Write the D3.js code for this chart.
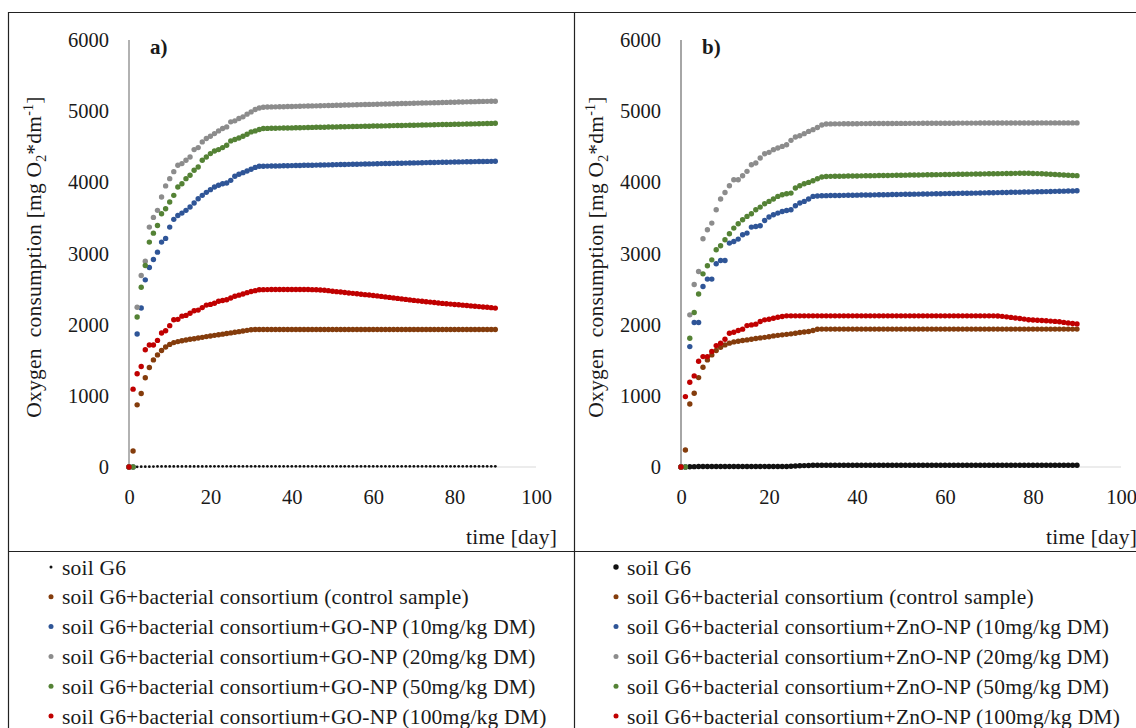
<!DOCTYPE html>
<html>
<head>
<meta charset="utf-8">
<script src="https://cdn.jsdelivr.net/npm/d3@7"></script>
<style>
  body { margin: 0; background: #fff; }
  svg text { font-family: "Palatino Linotype", "Book Antiqua", Palatino, "Liberation Serif", serif; fill: #1a1a1a; }
</style>
</head>
<body>
<svg id="chart" width="1136" height="728"></svg>
<script>
// days 0..90, one reading per day
var days = d3.range(0, 91);
var yTicks = [0, 1000, 2000, 3000, 4000, 5000, 6000];
var xTicks = [0, 20, 40, 60, 80, 100];

var seriesNames = ["soil G6", "soil G6+bacterial consortium (control sample)",
  "10mg/kg DM", "20mg/kg DM", "50mg/kg DM", "100mg/kg DM"];

// panel a) GO-NP
var a_soil = [
  0,0,3,4,5,5,6,8,8,8,
  8,8,8,8,8,8,8,8,8,8,
  9,9,9,9,9,9,9,9,9,9,
  9,9,9,9,9,9,9,9,9,9,
  9,9,9,9,9,9,9,9,9,9,
  9,9,9,9,9,9,9,9,9,9,
  9,9,9,9,9,9,9,9,9,9,
  9,9,9,9,9,9,9,9,9,9,
  9,9,9,9,9,9,9,9,9,9,
  9];
var a_control = [
  0,225,873,1033,1254,1399,1505,1575,1638,1686,
  1723,1748,1762,1775,1785,1795,1803,1812,1822,1832,
  1841,1850,1859,1867,1876,1884,1893,1902,1911,1920,
  1928,1933,1933,1933,1933,1933,1933,1933,1933,1933,
  1933,1933,1933,1933,1933,1933,1933,1933,1933,1933,
  1933,1933,1933,1933,1933,1933,1933,1933,1933,1933,
  1933,1933,1933,1933,1933,1933,1933,1933,1933,1933,
  1933,1933,1933,1933,1933,1933,1933,1933,1933,1933,
  1933,1933,1933,1933,1933,1933,1933,1933,1933,1933,
  1933];
var a_go10 = [
  0,0,1869,2235,2630,2803,2915,3019,3160,3212,
  3371,3480,3535,3568,3606,3653,3709,3770,3817,3859,
  3897,3934,3958,3981,3990,4028,4085,4113,4136,4160,
  4183,4210,4225,4227,4228,4229,4230,4231,4232,4233,
  4235,4236,4237,4239,4240,4241,4242,4244,4245,4246,
  4248,4249,4250,4251,4253,4254,4255,4256,4258,4259,
  4260,4262,4263,4264,4265,4267,4268,4269,4270,4272,
  4273,4274,4276,4277,4278,4279,4281,4282,4283,4284,
  4286,4287,4288,4289,4290,4291,4292,4293,4294,4295,
  4296];
var a_go20 = [
  0,0,2244,2690,2892,3371,3507,3606,3793,3950,
  4052,4150,4239,4263,4310,4357,4460,4488,4568,4615,
  4648,4685,4723,4756,4779,4850,4864,4897,4920,4958,
  4990,5024,5045,5055,5058,5060,5061,5062,5063,5065,
  5066,5068,5069,5071,5072,5074,5075,5077,5078,5080,
  5081,5083,5084,5086,5087,5089,5090,5092,5093,5095,
  5096,5098,5099,5101,5102,5104,5105,5107,5108,5110,
  5111,5113,5114,5116,5117,5119,5120,5122,5123,5125,
  5126,5128,5129,5131,5132,5134,5135,5137,5138,5139,
  5140];
var a_go50 = [
  0,0,2108,2526,2831,3160,3286,3394,3559,3629,
  3723,3817,3934,3981,4052,4099,4169,4216,4310,4357,
  4404,4441,4460,4488,4521,4582,4601,4624,4648,4676,
  4709,4723,4742,4756,4758,4759,4760,4762,4763,4764,
  4765,4767,4768,4769,4770,4772,4773,4774,4775,4777,
  4778,4779,4780,4782,4783,4784,4786,4787,4788,4789,
  4791,4792,4793,4794,4796,4797,4798,4799,4801,4802,
  4803,4804,4806,4807,4808,4809,4811,4812,4813,4814,
  4816,4817,4818,4819,4821,4822,4823,4825,4826,4828,
  4830];
var a_go100 = [
  0,1094,1310,1413,1648,1714,1714,1779,1883,1915,
  1986,2070,2075,2120,2130,2160,2195,2205,2240,2275,
  2285,2300,2330,2340,2350,2375,2400,2415,2430,2450,
  2465,2478,2490,2492,2493,2494,2495,2495,2495,2495,
  2495,2495,2495,2495,2494,2492,2490,2487,2483,2478,
  2470,2464,2458,2452,2446,2440,2434,2428,2422,2416,
  2410,2404,2397,2390,2383,2376,2369,2362,2355,2348,
  2341,2335,2329,2323,2317,2311,2305,2299,2294,2289,
  2284,2279,2274,2269,2264,2259,2254,2249,2244,2239,
  2233];

// panel b) ZnO-NP
var b_soil = [
  0,0,4,5,6,6,7,7,8,8,
  8,8,8,8,8,8,8,8,8,8,
  8,8,8,8,8,10,14,18,20,22,
  24,25,25,25,25,25,25,25,25,25,
  25,25,25,25,25,25,25,25,25,25,
  25,25,25,25,25,25,25,25,25,25,
  25,25,25,25,25,25,25,25,25,25,
  25,25,25,25,25,25,25,25,25,25,
  25,25,25,25,25,25,25,25,25,25,
  25];
var b_control = [
  0,239,886,1036,1256,1402,1505,1575,1636,1683,
  1716,1740,1758,1768,1777,1786,1796,1805,1814,1822,
  1830,1842,1850,1857,1864,1871,1880,1889,1896,1903,
  1918,1935,1938,1938,1938,1938,1938,1938,1938,1938,
  1938,1938,1938,1938,1938,1938,1938,1938,1938,1938,
  1938,1938,1938,1938,1938,1938,1938,1938,1938,1938,
  1938,1938,1938,1938,1938,1938,1938,1938,1938,1938,
  1938,1938,1938,1938,1938,1938,1938,1938,1938,1938,
  1938,1938,1938,1938,1938,1938,1938,1938,1938,1938,
  1938];
var b_zn10 = [
  0,0,1692,2030,2030,2536,2640,2640,2855,2902,
  2902,3146,3169,3202,3263,3287,3371,3380,3390,3464,
  3512,3544,3568,3591,3605,3615,3671,3709,3732,3765,
  3802,3808,3812,3813,3814,3815,3816,3817,3818,3819,
  3820,3821,3822,3823,3824,3825,3826,3827,3828,3829,
  3831,3832,3833,3834,3835,3836,3837,3838,3839,3840,
  3842,3843,3844,3845,3846,3847,3848,3849,3851,3852,
  3853,3854,3856,3857,3858,3860,3861,3862,3864,3865,
  3866,3868,3869,3870,3872,3873,3875,3876,3878,3879,
  3881];
var b_zn20 = [
  0,0,2138,2565,2747,3207,3333,3427,3615,3765,
  3858,3952,4037,4037,4093,4154,4248,4271,4342,4402,
  4421,4459,4482,4505,4529,4590,4637,4655,4684,4716,
  4740,4770,4806,4820,4821,4822,4822,4823,4823,4824,
  4824,4825,4825,4826,4826,4826,4827,4827,4827,4828,
  4828,4828,4829,4829,4829,4830,4830,4830,4830,4831,
  4831,4831,4831,4832,4832,4832,4832,4832,4833,4833,
  4833,4833,4833,4833,4834,4834,4834,4834,4834,4834,
  4834,4835,4835,4835,4835,4835,4835,4835,4835,4835,
  4835];
var b_zn50 = [
  0,0,1810,2170,2430,2714,2827,2911,3052,3108,
  3193,3277,3357,3418,3474,3521,3558,3615,3652,3699,
  3732,3765,3802,3826,3840,3849,3920,3952,3980,3999,
  4023,4050,4075,4083,4084,4085,4086,4087,4088,4089,
  4090,4091,4092,4093,4094,4095,4096,4097,4098,4099,
  4100,4101,4102,4103,4104,4105,4106,4107,4108,4109,
  4110,4111,4112,4113,4114,4115,4116,4117,4118,4119,
  4120,4121,4122,4123,4124,4125,4126,4127,4128,4127,
  4125,4123,4120,4117,4114,4110,4107,4104,4100,4097,
  4094];
var b_zn100 = [
  0,989,1191,1280,1487,1551,1551,1622,1706,1740,
  1796,1880,1894,1917,1937,1987,1997,2007,2044,2068,
  2077,2091,2105,2114,2124,2124,2124,2124,2124,2124,
  2124,2124,2124,2124,2124,2124,2124,2124,2124,2124,
  2124,2124,2124,2124,2124,2124,2124,2124,2124,2124,
  2124,2124,2124,2124,2124,2124,2124,2124,2124,2124,
  2124,2124,2124,2124,2124,2124,2124,2124,2124,2124,
  2124,2124,2122,2117,2110,2102,2094,2086,2078,2070,
  2066,2062,2058,2054,2050,2046,2040,2032,2024,2017,
  2011];

var colors = ["#111111", "#843c0c", "#2f5597", "#8c8c8c", "#548235", "#c00000"];

var svg = d3.select("#chart");

function drawPanel(cfg) {
    var x = d3.scaleLinear().domain([0, 100]).range([cfg.x0, cfg.x1]);
    var y = d3.scaleLinear().domain([0, 6000]).range([467, 40]);
    var g = svg.append("g");

    // light x axis baseline
    g.append("line")
        .attr("x1", x(0)).attr("x2", x(100))
        .attr("y1", y(0)).attr("y2", y(0))
        .attr("stroke", "#d9d9d9").attr("stroke-width", 1);

    g.append("g")
        .attr("transform", "translate(0," + y(0) + ")")
        .call(d3.axisBottom(x).tickValues(xTicks).tickSize(0).tickPadding(22).tickFormat(d3.format("d")))
        .call(function(s) { s.select(".domain").remove(); })
        .selectAll("text").style("font-size", "20.5px").style("font-family", null);

    g.append("g")
        .attr("transform", "translate(" + x(0) + ",0)")
        .call(d3.axisLeft(y).tickValues(yTicks).tickSize(0).tickPadding(20).tickFormat(d3.format("d")))
        .call(function(s) { s.select(".domain").remove(); })
        .selectAll("text").style("font-size", "20.5px").style("font-family", null);

    g.append("line")
        .attr("x1", x(0)).attr("x2", x(0))
        .attr("y1", y(6000)).attr("y2", y(0))
        .attr("stroke", cfg.axisColor).attr("stroke-width", cfg.axisWidth);

    cfg.series.forEach(function(vals, i) {
        var r = i === 0 ? cfg.blackR : 2.7;
        g.selectAll(".pt" + i)
            .data(vals)
            .enter().append("circle")
            .attr("class", "pt" + i)
            .attr("r", r)
            .attr("cx", function(d, j) { return x(days[j]); })
            .attr("cy", function(d) { return y(d); })
            .attr("fill", colors[i]);
    });

    // axis titles and panel tag
    var t = g.append("text")
        .attr("transform", "translate(" + cfg.titleX + ",257) rotate(-90)")
        .attr("text-anchor", "middle")
        .style("white-space", "pre")
        .style("font-size", "21.5px")
        .style("letter-spacing", "0.2px");
    t.append("tspan").text("Oxygen  consumption [mg O");
    t.append("tspan").attr("dy", 5).style("font-size", "14px").text("2");
    t.append("tspan").attr("dy", -5).text("*dm");
    t.append("tspan").attr("dy", -8).style("font-size", "14px").text("-1");
    t.append("tspan").attr("dy", 8).text("]");

    g.append("text")
        .attr("x", cfg.x0 + 21).attr("y", 54)
        .style("font-size", "21px").style("font-weight", "bold")
        .text(cfg.tag);

    g.append("text")
        .attr("x", cfg.timeX).attr("y", 544)
        .attr("text-anchor", "end")
        .style("font-size", "21.5px")
        .style("letter-spacing", "0.2px")
        .text("time [day]");

    // legend
    var labels = [seriesNames[0], seriesNames[1]];
    for (var k = 2; k < 6; k++) {
        labels.push("soil G6+bacterial consortium+" + cfg.np + " (" + seriesNames[k] + ")");
    }
    var leg = g.selectAll(".leg")
        .data(labels)
        .enter().append("g")
        .attr("transform", function(d, i) { return "translate(" + cfg.legX + "," + (567 + i * 29.8) + ")"; });
    leg.append("circle")
        .attr("r", function(d, i) { return i === 0 ? cfg.legBlackR : 2.5; })
        .attr("fill", function(d, i) { return colors[i]; });
    leg.append("text")
        .attr("x", 11).attr("dy", "0.35em")
        .style("font-size", "21.5px")
        .style("letter-spacing", "0.2px")
        .text(function(d) { return d; });
}

drawPanel({ x0: 129, x1: 536, axisColor: "#7f7f7f", axisWidth: 1.2, blackR: 1.4,
            series: [a_soil, a_control, a_go10, a_go20, a_go50, a_go100],
            titleX: 41, tag: "a)", timeX: 557, np: "GO-NP", legX: 51, legBlackR: 1.5 });
drawPanel({ x0: 681, x1: 1121, axisColor: "#a6a6a6", axisWidth: 2, blackR: 2.7,
            series: [b_soil, b_control, b_zn10, b_zn20, b_zn50, b_zn100],
            titleX: 603, tag: "b)", timeX: 1137, np: "ZnO-NP", legX: 616, legBlackR: 2.7 });

// table borders
var border = svg.append("g").attr("stroke", "#222").attr("stroke-width", 1.2);
border.append("line").attr("x1", 8.5).attr("x2", 8.5).attr("y1", 12).attr("y2", 728);
border.append("line").attr("x1", 8).attr("x2", 1136).attr("y1", 12.5).attr("y2", 12.5);
border.append("line").attr("x1", 574.5).attr("x2", 574.5).attr("y1", 12).attr("y2", 728);
border.append("line").attr("x1", 8).attr("x2", 1136).attr("y1", 551.5).attr("y2", 551.5);
</script>
</body>
</html>
